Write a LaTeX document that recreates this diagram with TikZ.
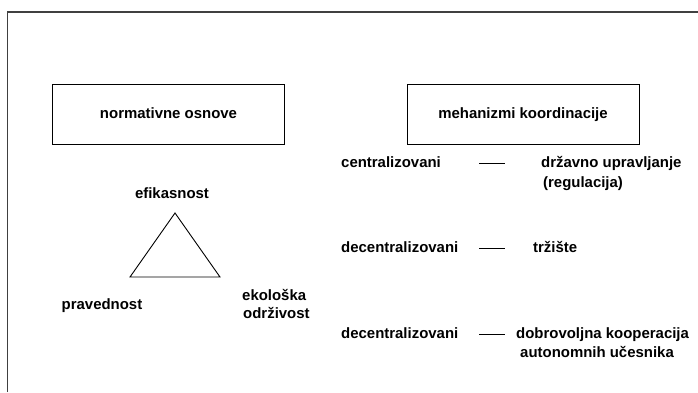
\documentclass[tikz,border=0pt]{standalone}
\usepackage{fontspec}
\setmainfont{Liberation Sans}
\begin{document}
\begin{tikzpicture}[x=1bp,y=-1bp,
  lbl/.style={font=\fontsize{15}{18}\selectfont\bfseries, inner sep=0pt},
  headbox/.style={lbl, draw=black, line width=0.9bp, minimum width=232bp, minimum height=60bp,
    text height=11bp, text depth=3bp},
  dashline/.style={line width=0.9bp},
  frameline/.style={draw=black!75, line width=1.5bp},
  tri/.style={line width=0.9bp, line join=miter}]
\useasboundingbox (0,0) rectangle (698,392);
% outer frame (only its top and left edges fall on the page)
\draw[frameline] (7.5,392) -- (7.5,12) -- (698,12);

% headings
\node[headbox] (norm) at (168.5,114) {normativne osnove};
\node[headbox] (meh) at (523,114) {mehanizmi koordinacije};

% triangle of normative foundations
\coordinate (ta) at (175,213);
\coordinate (tl) at (130,277);
\coordinate (tr) at (220,277);
\draw[tri] (ta) -- (tl) -- (tr) -- cycle;
\node[lbl, anchor=base] (efik) at (172,198) {efikasnost};
\node[lbl, anchor=base] (prav) at (102,309) {pravednost};
\node[lbl, anchor=base west] (eko) at (242,300) {ekološka};
\node[lbl, anchor=base west] (odr) at (243,318) {održivost};

% coordination mechanisms
\node[lbl, anchor=base west] (cen) at (341,167) {centralizovani};
\node[lbl, anchor=base west] (dec1) at (341,252) {decentralizovani};
\node[lbl, anchor=base west] (dec2) at (341,338) {decentralizovani};

\node[lbl, anchor=base west] (drz) at (541,167) {državno upravljanje};
\node[lbl, anchor=base west] (reg) at (543,187) {(regulacija)};
\node[lbl, anchor=base west] (trz) at (533,252) {tržište};
\node[lbl, anchor=base west] (dob) at (516,338) {dobrovoljna kooperacija};
\node[lbl, anchor=base west] (aut) at (520,357) {autonomnih učesnika};

% short dashes between the two columns
\coordinate (d1a) at (479,163); \coordinate (d1b) at (505,163);
\coordinate (d2a) at (479,248); \coordinate (d2b) at (505,248);
\coordinate (d3a) at (479,334); \coordinate (d3b) at (505,334);
\draw[dashline] (d1a) -- (d1b);
\draw[dashline] (d2a) -- (d2b);
\draw[dashline] (d3a) -- (d3b);
\end{tikzpicture}
\end{document}
